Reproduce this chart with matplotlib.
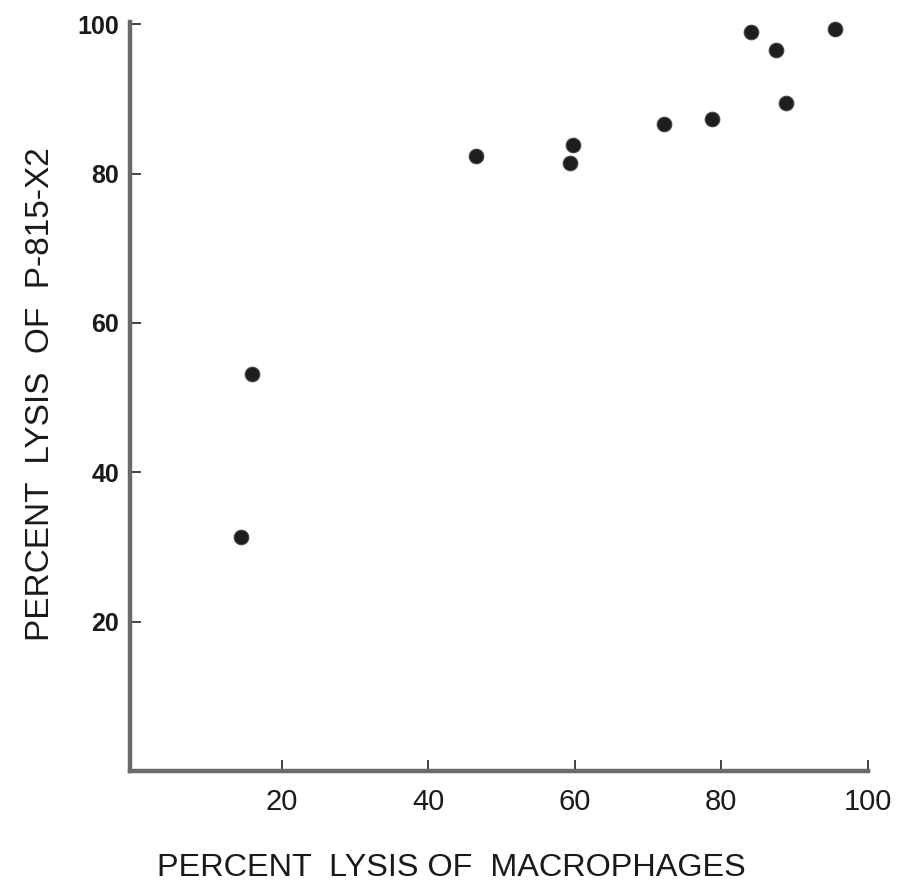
import matplotlib
matplotlib.use("Agg")
import matplotlib.pyplot as plt
from matplotlib import font_manager

# values
macrophage_lysis = [14.4, 16.0, 46.5, 59.7, 59.4, 72.2, 78.7, 88.8, 84.1, 87.4, 95.5]
p815_lysis = [31.4, 53.2, 82.3, 83.8, 81.4, 86.7, 87.3, 89.4, 98.9, 96.6, 99.4]
x_ticks = [20, 40, 60, 80, 100]
y_ticks = [20, 40, 60, 80, 100]

installed = {f.name for f in font_manager.fontManager.ttflist}
narrow = "Liberation Sans Narrow" if "Liberation Sans Narrow" in installed else "Liberation Sans"

W, H = 904, 894
fig = plt.figure(figsize=(W / 100, H / 100), dpi=100)
# axes box in pixels: left 130, right 868, top 22, bottom 771
ax = fig.add_axes([130 / W, (H - 771) / H, (868 - 130) / W, (771 - 22) / H])

ax.scatter(macrophage_lysis, p815_lysis, s=110, color="#1e1e1e",
           edgecolor="#444444", linewidth=0.8, zorder=3, clip_on=False)

ax.set_xlim(-0.7, 100)
ax.set_ylim(0, 100.3)
ax.set_xticks(x_ticks)
ax.set_yticks(y_ticks)

for side in ("top", "right"):
    ax.spines[side].set_visible(False)
for side in ("left", "bottom"):
    ax.spines[side].set_color("#6a6a6a")
    ax.spines[side].set_linewidth(3.2)

ax.tick_params(axis="both", direction="in", length=8, width=1.2, color="#222222")
ax.tick_params(axis="x", pad=12)
ax.tick_params(axis="y", pad=8)

for lbl in ax.get_xticklabels():
    lbl.set_fontfamily(narrow)
    lbl.set_fontsize(21)
    lbl.set_color("#1a1a1a")
for lbl in ax.get_yticklabels():
    lbl.set_fontfamily("Liberation Sans")
    lbl.set_fontweight("bold")
    lbl.set_fontsize(18)
    lbl.set_color("#1a1a1a")

fig.text(451 / W, 1 - 868 / H, "PERCENT  LYSIS OF  MACROPHAGES",
         ha="center", va="center", fontsize=23.3, family="Liberation Sans",
         color="#1a1a1a")
fig.text(41 / W, 1 - 394 / H, "PERCENT  LYSIS  OF  P-815-X2", rotation=90,
         ha="center", va="center", fontsize=24, family="Liberation Sans",
         color="#1a1a1a")

fig.savefig("out.png", dpi=100)
